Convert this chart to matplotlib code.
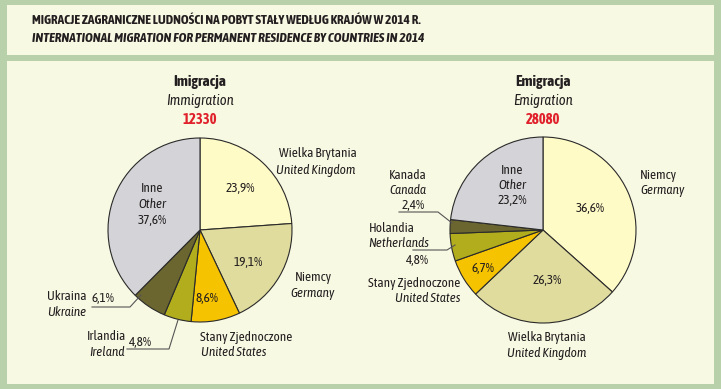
import matplotlib
matplotlib.use("Agg")
import matplotlib.pyplot as plt
from matplotlib.patches import Rectangle

FAM = ['Asap Condensed', 'Archivo Narrow', 'DejaVu Sans']
plt.rcParams['font.family'] = FAM

# ---- data ----
imm_total = "12330"
emi_total = "28080"
imm_labels_pl = ["Wielka Brytania", "Niemcy", "Stany Zjednoczone", "Irlandia", "Ukraina", "Inne"]
imm_labels_en = ["United Kingdom", "Germany", "United States", "Ireland", "Ukraine", "Other"]
imm_values = [23.9, 19.1, 8.6, 4.8, 6.1, 37.6]
emi_labels_pl = ["Niemcy", "Wielka Brytania", "Stany Zjednoczone", "Holandia", "Kanada", "Inne"]
emi_labels_en = ["Germany", "United Kingdom", "United States", "Netherlands", "Canada", "Other"]
emi_values = [36.6, 26.3, 6.7, 4.8, 2.4, 23.2]

imm_colors = ["#fffbc6", "#e0dc9e", "#f6c300", "#b1ad1c", "#6b6530", "#d4d4d8"]
emi_colors = ["#fffbc6", "#e0dc9e", "#f6c300", "#b1ad1c", "#6b6530", "#d4d4d8"]

W, H = 721, 389
fig = plt.figure(figsize=(W / 100, H / 100), dpi=100)
ax = fig.add_axes([0, 0, 1, 1])

BG = "#f8f9e3"
GREEN = "#b9d1aa"
ax.add_patch(Rectangle((0, 0), W, H, facecolor=GREEN, edgecolor='none', zorder=0))
ax.add_patch(Rectangle((7, 5), W - 14, 50, facecolor=BG, edgecolor='none', zorder=0.5))
ax.add_patch(Rectangle((7, 61), W - 14, H - 66, facecolor=BG, edgecolor='none', zorder=0.5))

def fmt(v):
    return f"{v:.1f}".replace('.', ',') + "%"

wp = dict(edgecolor='#2a2a2a', linewidth=0.8)
# y axis is inverted (pixel coordinates), so start at -90 and go counter-clockwise in data
ax.pie(imm_values, colors=imm_colors, startangle=-90, counterclock=True,
       center=(200, 230), radius=92, wedgeprops=wp, frame=True)
ax.pie(emi_values, colors=emi_colors, startangle=-90, counterclock=True,
       center=(543, 230), radius=93, wedgeprops=wp, frame=True)
ax.set_xlim(0, W)
ax.set_ylim(H, 0)
ax.set_aspect('auto')
ax.axis('off')

TC = '#231f20'
FS = 9.5

def t(x, y, s, ha='center', style='normal', weight='normal', color=TC, fs=FS):
    ax.text(x, y, s, ha=ha, va='center', fontsize=fs, fontstyle=style,
            fontweight=weight, color=color, zorder=5, family=FAM)

# title
t(32, 20, "MIGRACJE ZAGRANICZNE LUDNOŚCI NA POBYT STAŁY WEDŁUG KRAJÓW W 2014 R.",
  ha='left', weight='bold', fs=9.5)
t(32, 38, "INTERNATIONAL MIGRATION FOR PERMANENT RESIDENCE BY COUNTRIES IN 2014",
  ha='left', weight='bold', style='italic', fs=9.5)

# headers
t(200, 82, "Imigracja", weight='bold', fs=11)
t(200, 101, "Immigration", style='italic', fs=10.5)
t(200, 120, imm_total, weight='bold', color='#e0202a', fs=10.5)
t(543, 82, "Emigracja", weight='bold', fs=11)
t(543, 101, "Emigration", style='italic', fs=10.5)
t(543, 120, emi_total, weight='bold', color='#e0202a', fs=10.5)

# immigration labels
t(279, 153, imm_labels_pl[0], ha='left')
t(276, 170, imm_labels_en[0], ha='left', style='italic')
t(240, 188, fmt(imm_values[0]))
t(248, 262, fmt(imm_values[1]))
t(313, 277, imm_labels_pl[1])
t(313, 293, imm_labels_en[1], style='italic')
t(207, 298, fmt(imm_values[2]))
t(200, 337, imm_labels_pl[2], ha='left')
t(201, 353, imm_labels_en[2], ha='left', style='italic')
t(107, 337, imm_labels_pl[3])
t(107, 353, imm_labels_en[3], style='italic')
t(140, 343, fmt(imm_values[3]))
t(67, 297, imm_labels_pl[4])
t(67, 313, imm_labels_en[4], style='italic')
t(103, 299, fmt(imm_values[4]))
t(152, 188, imm_labels_pl[5])
t(152, 204, imm_labels_en[5], style='italic')
t(152, 220, fmt(imm_values[5]))

lc = dict(color='#555555', linewidth=0.8, zorder=4)
ax.plot([92, 130, 141], [307, 307, 295], **lc)
ax.plot([127, 169, 178], [349, 349, 320], **lc)

# emigration labels
t(640, 175, emi_labels_pl[0], ha='left')
t(640, 190, emi_labels_en[0], ha='left', style='italic')
t(590, 208, fmt(emi_values[0]))
t(547, 280, fmt(emi_values[1]))
t(547, 337, emi_labels_pl[1])
t(547, 353, emi_labels_en[1], style='italic')
t(483, 268, fmt(emi_values[2]))
t(460, 283, emi_labels_pl[2], ha='right')
t(460, 298, emi_labels_en[2], ha='right', style='italic')
t(392, 228, emi_labels_pl[3])
t(399, 243, emi_labels_en[3], style='italic')
t(417, 260, fmt(emi_values[3]))
t(408, 175, emi_labels_pl[4])
t(408, 190, emi_labels_en[4], style='italic')
t(413, 205, fmt(emi_values[4]))
t(512, 170, emi_labels_pl[5])
t(512, 185, emi_labels_en[5], style='italic')
t(512, 200, fmt(emi_values[5]))

ax.plot([399, 438, 452], [212, 212, 223], **lc)
ax.plot([413, 447, 455], [250, 250, 245], **lc)

fig.savefig("out.png", dpi=100, facecolor=GREEN)
